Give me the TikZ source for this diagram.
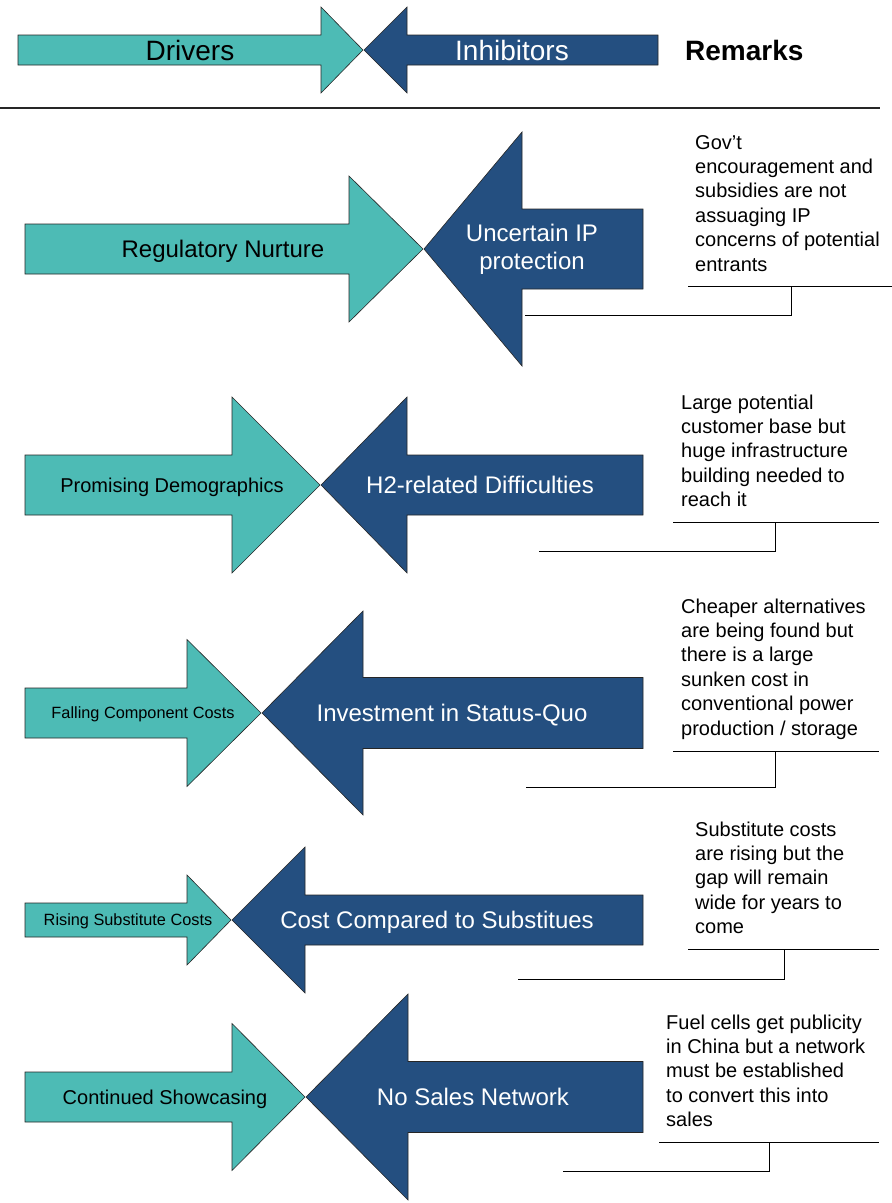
\documentclass[tikz,border=0pt]{standalone}
\usepackage{fontspec}
\setmainfont{Liberation Sans}
\definecolor{drvc}{RGB}{77,187,181}
\definecolor{inhc}{RGB}{36,79,128}
% #1 style, #2 tail x, #3 head base x, #4 tip x, #5 centre y, #6 body half height, #7 head half height
\newcommand\ArrShape[7]{\draw[#1] (#2,#5-#6) -- (#3,#5-#6) -- (#3,#5-#7) -- (#4,#5) -- (#3,#5+#7) -- (#3,#5+#6) -- (#2,#5+#6) -- cycle;}
\tikzset{
  drv/.style={fill=drvc, draw=black!85, line width=0.6pt, line join=miter},
  inh/.style={fill=inhc, draw=black!85, line width=0.6pt, line join=miter},
  lblhead/.style={inner sep=0pt, font=\fontsize{28}{32}\selectfont, text height=20.2pt, text depth=0pt},
  lblbig/.style={inner sep=0pt, font=\fontsize{24}{28}\selectfont, text height=17.3pt, text depth=0pt},
  lblmid/.style={inner sep=0pt, font=\fontsize{20}{24}\selectfont, text height=14.4pt, text depth=0pt},
  lblsmall/.style={inner sep=0pt, font=\fontsize{16.3}{20}\selectfont, text height=11.7pt, text depth=0pt},
  lbltwo/.style={inner sep=0pt, font=\fontsize{24}{28}\selectfont, align=center},
  remark/.style={inner sep=0pt, anchor=north west, align=left, font=\fontsize{20}{24.4}\selectfont},
  callout/.style={draw=black, line width=0.9pt},
  rule/.style={draw=black!85, line width=1.3pt}
}
\begin{document}
\begin{tikzpicture}[x=1pt,y=-1pt]
\useasboundingbox (0,0) rectangle (892,1203);

% ---------- header ----------
\ArrShape{drv}{18}{321}{363}{50}{15}{43}
\ArrShape{inh}{658}{407}{364}{50}{15}{43}
\node[lblhead] (hdrv) at (190,50) {Drivers};
\node[lblhead, text=white] (hinh) at (512,50) {Inhibitors};
\node[lblhead, anchor=west, font=\fontsize{28}{32}\selectfont\bfseries] (hrem) at (685,50) {Remarks};
\draw[rule] (0,108) -- (880,108);

% ---------- row 1 ----------
\ArrShape{drv}{25}{349}{423}{249}{25}{73}
\ArrShape{inh}{643}{522}{424}{249}{40}{117}
\node[lblbig] (d1) at (223,249) {Regulatory Nurture};
\node[lbltwo, text=white] (i1) at (532,249) {Uncertain IP\\protection};
\node[remark] (r1) at (695,131.8) {\strut Gov’t\\encouragement and\\subsidies are not\\assuaging IP\\concerns of potential\\entrants};
\draw[callout] (688,286) -- (892,286);
\draw[callout] (791,286) -- (791,315) -- (525,315);

% ---------- row 2 ----------
\ArrShape{drv}{25}{232}{320}{485}{30}{88}
\ArrShape{inh}{643}{407}{321}{485}{30}{88}
\node[lblmid] (d2) at (172,485) {Promising Demographics};
\node[lblbig, text=white] (i2) at (480,485) {H2-related Difficulties};
\node[remark] (r2) at (681,391.8) {\strut Large potential\\customer base but\\huge infrastructure\\building needed to\\reach it};
\draw[callout] (673,522) -- (879,522);
\draw[callout] (775,522) -- (775,551) -- (539,551);

% ---------- row 3 ----------
\ArrShape{drv}{25}{187}{261}{713}{25}{73.5}
\ArrShape{inh}{643}{363}{262}{713}{35.5}{102}
\node[lblsmall] (d3) at (143,713) {Falling Component Costs};
\node[lblbig, text=white] (i3) at (452,713) {Investment in Status-Quo};
\node[remark] (r3) at (681,595.8) {\strut Cheaper alternatives\\are being found but\\there is a large\\sunken cost in\\conventional power\\production / storage};
\draw[callout] (673,751) -- (879,751);
\draw[callout] (775,751) -- (775,787) -- (526,787);

% ---------- row 4 ----------
\ArrShape{drv}{25}{187}{231}{920}{17}{45}
\ArrShape{inh}{643}{305}{232}{920}{25}{73}
\node[lblsmall] (d4) at (128,920) {Rising Substitute Costs};
\node[lblbig, text=white] (i4) at (437,920) {Cost Compared to Substitues};
\node[remark] (r4) at (695,818.8) {\strut Substitute costs\\are rising but the\\gap will remain\\wide for years to\\come};
\draw[callout] (688,949) -- (879,949);
\draw[callout] (784,949) -- (784,979) -- (518,979);

% ---------- row 5 ----------
\ArrShape{drv}{25}{232}{305}{1097}{25}{73.5}
\ArrShape{inh}{643}{408}{306}{1097}{35.5}{103}
\node[lblmid] (d5) at (165,1097) {Continued Showcasing};
\node[lblbig, text=white] (i5) at (473,1097) {No Sales Network};
\node[remark] (r5) at (666,1011.8) {\strut Fuel cells get publicity\\in China but a network\\must be established\\to convert this into\\sales};
\draw[callout] (659,1142) -- (879,1142);
\draw[callout] (769,1142) -- (769,1171) -- (563,1171);
\end{tikzpicture}
\end{document}
